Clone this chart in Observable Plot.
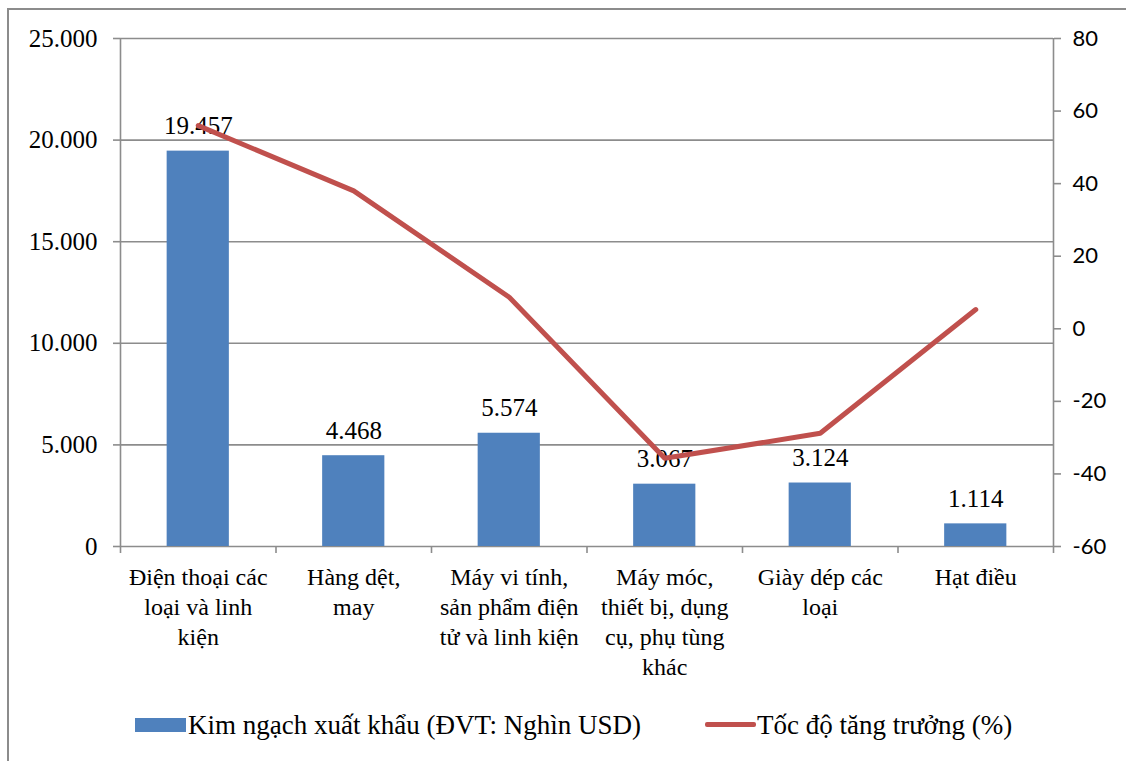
<!DOCTYPE html>
<html><head><meta charset="utf-8">
<script src="https://cdn.jsdelivr.net/npm/d3@7"></script>
<script src="https://cdn.jsdelivr.net/npm/@observablehq/plot@0.6"></script>
<style>
body{margin:0;background:#fff;}
#wrap{position:relative;width:1126px;height:761px;overflow:hidden;background:#fff;}
#border{position:absolute;left:7px;top:8px;width:1140px;height:780px;border:2px solid #8c8c8c;box-sizing:border-box;pointer-events:none;}
#chart{position:absolute;left:0;top:0;}
#legend{position:absolute;top:0;left:0;width:1126px;height:761px;font-family:"Liberation Serif","Times New Roman",serif;font-size:27px;color:#000;pointer-events:none;}
.sw{position:absolute;}
.lt{position:absolute;line-height:30px;white-space:nowrap;}
</style>
</head><body>
<div id="wrap">
  <div id="chart"></div>
  <div id="legend">
    <div class="sw" style="left:135px;top:718px;width:51px;height:14px;background:#4F81BD;"></div>
    <div class="lt" id="leg1" style="left:188px;top:710px;"></div>
    <div class="sw" style="left:705px;top:722px;width:51px;height:5px;background:#C0504D;border-radius:2px;"></div>
    <div class="lt" id="leg2" style="left:757px;top:710px;"></div>
  </div>
  <div id="border"></div>
</div>
<script>
const categories = [
  "Điện thoại các loại và linh kiện",
  "Hàng dệt, may",
  "Máy vi tính, sản phẩm điện tử và linh kiện",
  "Máy móc, thiết bị, dụng cụ, phụ tùng khác",
  "Giày dép các loại",
  "Hạt điều"
];
const categoryLabels = [
  "Điện thoại các\nloại và linh\nkiện",
  "Hàng dệt,\nmay",
  "Máy vi tính,\nsản phẩm điện\ntử và linh kiện",
  "Máy móc,\nthiết bị, dụng\ncụ, phụ tùng\nkhác",
  "Giày dép các\nloại",
  "Hạt điều"
];
const exportValues = [19457, 4468, 5574, 3067, 3124, 1114];
const valueLabels = ["19.457", "4.468", "5.574", "3.067", "3.124", "1.114"];
const growthRates = [56, 38, 8.7, -35.7, -28.8, 5.3];
const leftTicks = [0, 5000, 10000, 15000, 20000, 25000];
const rightTicks = [-60, -40, -20, 0, 20, 40, 60, 80];
const seriesNames = ["Kim ngạch xuất khẩu (ĐVT: Nghìn USD)", "Tốc độ tăng trưởng (%)"];

document.getElementById("leg1").textContent = seriesNames[0];
document.getElementById("leg2").textContent = seriesNames[1];

const leftDomain = [0, 25000];
const rightDomain = [-60, 80];
const toLeft = v => (v - rightDomain[0]) / (rightDomain[1] - rightDomain[0]) * (leftDomain[1] - leftDomain[0]) + leftDomain[0];
const fromLeft = y => (y - leftDomain[0]) / (leftDomain[1] - leftDomain[0]) * (rightDomain[1] - rightDomain[0]) + rightDomain[0];

const data = categories.map((c, i) => ({
  i, category: c, label: categoryLabels[i], value: exportValues[i],
  valueLabel: valueLabels[i], growth: growthRates[i]
}));
const boundaries = d3.range(categories.length + 1);
const gray = "#8c8c8c";
const serif = "'Liberation Serif', 'Times New Roman', serif";

const chart = Plot.plot({
  width: 1126,
  height: 761,
  marginLeft: 120,
  marginRight: 73,
  marginTop: 38,
  marginBottom: 215,
  style: {background: "transparent", color: "#000", fontFamily: serif},
  x: {domain: [0, categories.length], axis: null, label: null},
  y: {domain: leftDomain, axis: null, label: null},
  marks: [
    Plot.ruleY(leftTicks, {stroke: gray, strokeWidth: 1.6}),
    Plot.ruleX([0, categories.length], {y1: leftDomain[0], y2: leftDomain[1], stroke: gray, strokeWidth: 1.6}),
    Plot.axisX(boundaries, {anchor: "bottom", label: null, tickSize: 7, tickFormat: () => "", stroke: gray, strokeWidth: 1.6}),
    Plot.axisY(leftTicks, {anchor: "left", label: null, tickSize: 7, tickPadding: 16, stroke: gray, strokeWidth: 1.6,
      tickFormat: d => d.toLocaleString("de-DE"), fontSize: 25, fontFamily: serif, fill: "#000"}),
    Plot.axisY(rightTicks.map(toLeft), {anchor: "right", label: null, tickSize: 7, tickPadding: 12, stroke: gray, strokeWidth: 1.6,
      tickFormat: d => String(Math.round(fromLeft(d))), textAnchor: "start", fontSize: 22, fontFamily: "Lato, 'Open Sans', sans-serif", fill: "#000"}),
    Plot.rectY(data, {x1: d => d.i + 0.3, x2: d => d.i + 0.7, y: "value", fill: "#4F81BD"}),
    Plot.text(data, {x: d => d.i + 0.5, y: "value", text: "valueLabel", dy: -25, fontSize: 25, fontFamily: serif, fill: "#000"}),
    Plot.line(data, {x: d => d.i + 0.5, y: d => toLeft(d.growth), stroke: "#C0504D", strokeWidth: 5, strokeLinejoin: "round", strokeLinecap: "round"}),
    Plot.text(data, {x: d => d.i + 0.5, y: leftDomain[0], text: "label", lineAnchor: "top", dy: 17, lineHeight: 1.25, fontSize: 24, fontFamily: serif, fill: "#000"})
  ]
});
document.getElementById("chart").appendChild(chart);
</script>
</body></html>
